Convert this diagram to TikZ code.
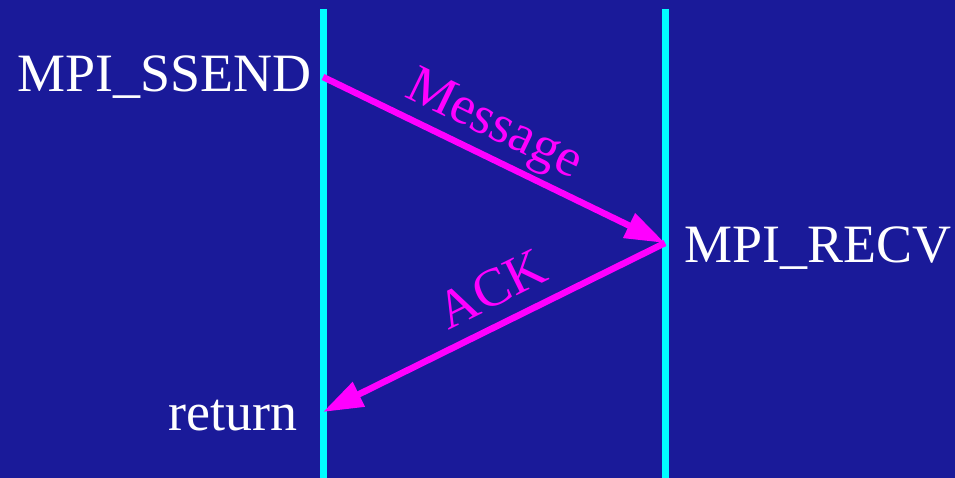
\documentclass[tikz,border=0pt]{standalone}
\usepackage{fontspec}
\setmainfont{Liberation Serif}
\usetikzlibrary{arrows.meta}
\definecolor{slidebg}{RGB}{26,26,153}
\definecolor{lifecyan}{RGB}{0,255,255}
\definecolor{msgpink}{RGB}{255,0,255}
\tikzset{
	lifeline/.style={draw=lifecyan, line width=7pt},
	msg/.style={draw=msgpink, line width=6.5pt, -{Triangle[length=40pt,width=26pt]}},
	msglabel/.style={text=msgpink, sloped, pos=0.46, inner sep=0pt},
	call/.style={text=white, inner sep=0pt},
	big/.style={font=\fontsize{54}{64}\selectfont}
}
\begin{document}
\begin{tikzpicture}[x=1pt,y=-1pt,big]
		\fill[slidebg] (0,0) rectangle (955,478);
		\useasboundingbox (0,0) rectangle (955,478);
		\coordinate (ltop) at (323,9);
		\coordinate (lbot) at (323,478);
		\coordinate (rtop) at (665,9);
		\coordinate (rbot) at (665,478);
		\draw[lifeline] (ltop) -- (lbot);
		\draw[lifeline] (rtop) -- (rbot);
		\coordinate (send) at (323,77);
		\coordinate (recv) at (665,243);
		\coordinate (ret) at (323,412);
		\draw[msg] (send) -- node[msglabel, above=3pt] {Message} (recv);
		\draw[msg] (recv) -- node[msglabel, above=14pt] {ACK} (ret);
		\node[call, anchor=base east] (ssend) at (312,92) {MPI\_SSEND};
		\node[call, anchor=base west] (recvtxt) at (684,262) {MPI\_RECV};
		\node[call, anchor=base east] (rettxt) at (298,430) {return};
	\end{tikzpicture}
\end{document}
